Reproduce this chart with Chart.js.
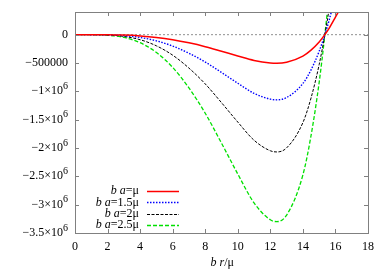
<!DOCTYPE html>
<html>
<head>
<meta charset="utf-8">
<script src="https://cdn.jsdelivr.net/npm/chart.js@4/dist/chart.umd.min.js"></script>
<style>
  html, body { margin: 0; padding: 0; background: #fff; }
  #wrap { width: 390px; height: 273px; }
</style>
</head>
<body>
<div id="wrap"><canvas id="chart"></canvas></div>
<script>
// valores
const rValues = [0, 1, 2, 3, 4, 5, 6, 7, 8, 9, 10, 11, 12, 12.4, 13, 14, 14.5, 15, 15.35, 15.6, 16, 16.3];
const seriesMu = [0, -100, -1500, -7600, -21700, -48000, -88400, -144000, -212000, -293000, -376000, -454500, -500000, -505000, -487000, -379000, -273000, -129000, 0, 106000, 308000, 465000];
const series15 = [0, -230, -3450, -17250, -49500, -109000, -201000, -328000, -483000, -667000, -857000, -1035000, -1138000, -1150000, -1110000, -862000, -621000, -293000, 0, 241000, 701000, 1058000];
const series2 = [0, -400, -6200, -31000, -89000, -197000, -362000, -590000, -869000, -1200000, -1542000, -1863000, -2049000, -2070000, -1998000, -1552000, -1118000, -528000, 0, 435000, 1263000, 1904000];
const series25 = [0, -660, -9900, -49500, -142000, -313500, -577500, -940500, -1386000, -1914000, -2458500, -2970000, -3267000, -3300000, -3184500, -2475000, -1782000, -841500, 0, 693000, 2013000, 3036000];
const legendLabels = ['=\u03bc', '=1.5\u03bc', '=2\u03bc', '=2.5\u03bc'];
const yTickValues = [-3500000, -3000000, -2500000, -2000000, -1500000, -1000000, -500000, 0];
const yTickBase = ['\u22123.5\u00d710', '\u22123\u00d710', '\u22122.5\u00d710', '\u22122\u00d710', '\u22121.5\u00d710', '\u22121\u00d710', '\u2212500000', '0'];
const yTickExp = ['6', '6', '6', '6', '6', '6', '', ''];
const zeroLineX = [0, 18];
const zeroLineY = [0, 0];

const serif = '"Liberation Serif", "DejaVu Serif", serif';

function toPoints(xs, ys) {
    return xs.map((x, i) => ({ x: x, y: ys[i] }));
}

// desenha partes em itálico/normal alinhadas à direita
function mixedText(ctx, parts, xRight, y) {
    let total = 0;
    parts.forEach(p => {
        ctx.font = (p[1] ? 'italic ' : '') + '12px ' + serif;
        total += ctx.measureText(p[0]).width;
    });
    let x = xRight - total;
    parts.forEach(p => {
        ctx.font = (p[1] ? 'italic ' : '') + '12px ' + serif;
        ctx.fillText(p[0], x, y);
        x += ctx.measureText(p[0]).width;
    });
}

const framePlugin = {
    id: 'frame',
    afterDatasetsDraw(chart) {
        const ctx = chart.ctx;
        const a = chart.chartArea;
        const xs = chart.scales.x;
        const ys = chart.scales.y;
        ctx.save();
        ctx.strokeStyle = '#808080';
        ctx.lineWidth = 1;
        ctx.strokeRect(a.left + 0.5, a.top + 0.5, a.right - a.left, a.bottom - a.top);
        ctx.beginPath();
        xs.ticks.forEach(t => {
            const px = Math.round(xs.getPixelForValue(t.value)) + 0.5;
            ctx.moveTo(px, a.bottom); ctx.lineTo(px, a.bottom - 4);
            ctx.moveTo(px, a.top); ctx.lineTo(px, a.top + 4);
        });
        ys.ticks.forEach(t => {
            const py = Math.round(ys.getPixelForValue(t.value)) + 0.5;
            ctx.moveTo(a.left, py); ctx.lineTo(a.left + 4, py);
            ctx.moveTo(a.right, py); ctx.lineTo(a.right - 4, py);
        });
        ctx.stroke();

        // rótulos do eixo y com expoente
        ctx.fillStyle = '#000';
        ctx.textBaseline = 'middle';
        yTickValues.forEach((v, i) => {
            const py = ys.getPixelForValue(v);
            const right = a.left - 7;
            ctx.font = '10px ' + serif;
            const ew = yTickExp[i] ? ctx.measureText(yTickExp[i]).width : 0;
            if (yTickExp[i]) ctx.fillText(yTickExp[i], right - ew, py - 5);
            ctx.font = '12px ' + serif;
            const bw = ctx.measureText(yTickBase[i]).width;
            ctx.fillText(yTickBase[i], right - ew - bw, py);
        });

        // legenda
        const sets = chart.data.datasets.slice(0, 4);
        sets.forEach((ds, i) => {
            const y = 191 + i * 11.4;
            mixedText(ctx, [['b', true], [' ', false], ['a', true], [legendLabels[i], false]], 139, y);
            ctx.beginPath();
            ctx.strokeStyle = ds.borderColor;
            ctx.lineWidth = ds.borderWidth;
            ctx.setLineDash(ds.borderDash || []);
            ctx.moveTo(147, Math.round(y) + 0.5);
            ctx.lineTo(179, Math.round(y) + 0.5);
            ctx.stroke();
        });
        ctx.setLineDash([]);

        // título do eixo x
        ctx.textBaseline = 'alphabetic';
        mixedText(ctx, [['b', true], [' ', false], ['r', true], ['/\u03bc', false]], 234, 266);
        ctx.restore();
    }
};

document.addEventListener('DOMContentLoaded', function () {
    const ctx = document.getElementById('chart').getContext('2d');
    new Chart(ctx, {
        type: 'line',
        data: {
            datasets: [
                { data: toPoints(rValues, seriesMu), borderColor: '#ff0000', borderWidth: 1.5 },
                { data: toPoints(rValues, series15), borderColor: '#0000ff', borderWidth: 1.4, borderDash: [1.5, 1.5] },
                { data: toPoints(rValues, series2), borderColor: '#000000', borderWidth: 1, borderDash: [3, 1.5] },
                { data: toPoints(rValues, series25), borderColor: '#00e000', borderWidth: 1.3, borderDash: [4, 2] },
                { data: toPoints(zeroLineX, zeroLineY), borderColor: '#909090', borderWidth: 1, borderDash: [2, 2], cubicInterpolationMode: 'default', tension: 0 }
            ]
        },
        options: {
            responsive: true,
            maintainAspectRatio: false,
            animation: false,
            layout: { padding: { top: 12, right: 22, left: 0, bottom: 0 } },
            elements: {
                point: { radius: 0 },
                line: { cubicInterpolationMode: 'monotone', fill: false }
            },
            plugins: {
                legend: { display: false },
                tooltip: { enabled: false }
            },
            scales: {
                x: {
                    type: 'linear',
                    min: 0,
                    max: 18,
                    ticks: { stepSize: 2, color: '#000', font: { family: serif, size: 12 }, padding: 7, maxRotation: 0, autoSkip: false },
                    grid: { display: false, drawTicks: false },
                    border: { display: false },
                    afterFit(scale) { scale.height = 40; }
                },
                y: {
                    type: 'linear',
                    min: -3500000,
                    max: 400000,
                    ticks: { display: false },
                    afterBuildTicks(scale) {
                        scale.ticks = yTickValues.map(v => ({ value: v }));
                    },
                    grid: { display: false, drawTicks: false },
                    border: { display: false },
                    afterFit(scale) { scale.width = 75; }
                }
            }
        },
        plugins: [framePlugin]
    });
});
</script>
</body>
</html>
